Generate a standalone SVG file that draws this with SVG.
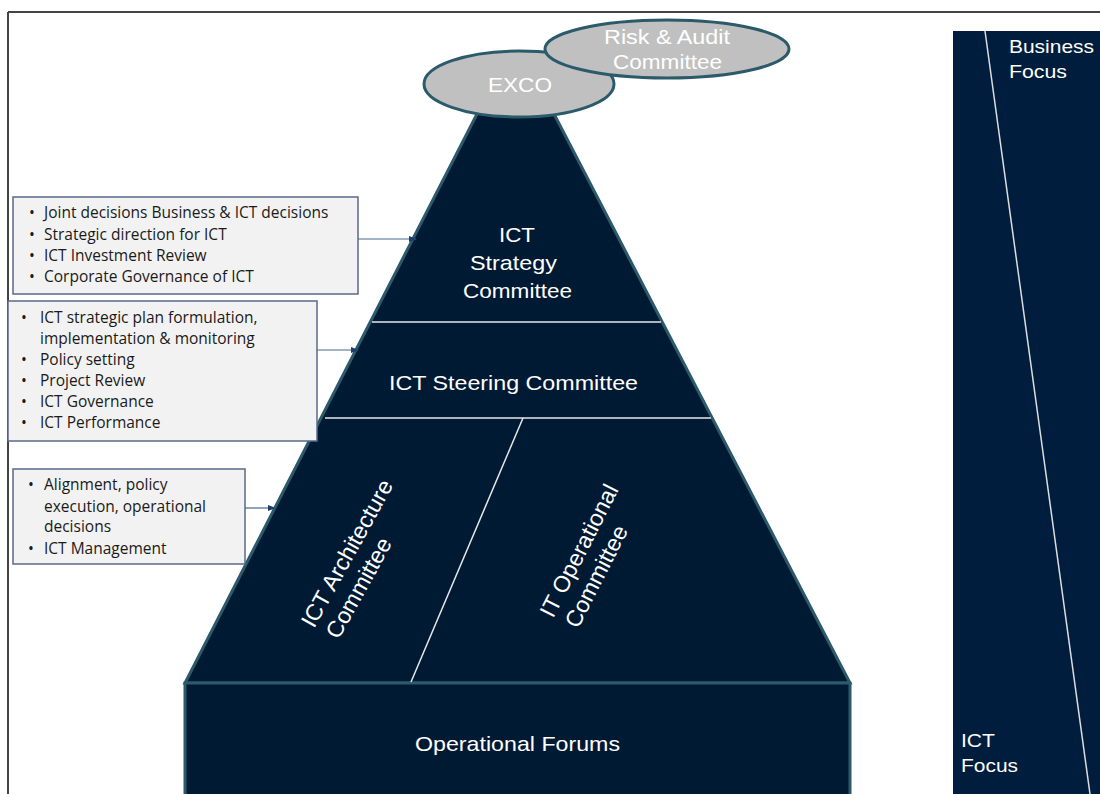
<svg xmlns="http://www.w3.org/2000/svg" width="1100" height="794" viewBox="0 0 1100 794">
  <defs>
    <marker id="arrow" viewBox="0 0 10 10" refX="9" refY="5" markerWidth="8" markerHeight="8" orient="auto" markerUnits="userSpaceOnUse">
      <path d="M0,1 L10,5 L0,9 z" fill="#1f3f6a"/>
    </marker>
    <style>
      .frame { stroke: #444; stroke-width: 2; fill: none; }
      .tier { fill: #011a34; stroke: #2d5a6b; stroke-width: 3; stroke-linejoin: miter; }
      .divider { stroke: #e8e8e8; stroke-width: 1.5; fill: none; }
      .oval { fill: #c0c0c0; stroke: #2b5a6a; stroke-width: 3; }
      .oval-text { font-family: "Liberation Sans", Arial, sans-serif; font-size: 21px; fill: #ffffff; text-anchor: middle; }
      .tier-text { font-family: "Liberation Sans", Arial, sans-serif; font-size: 21px; fill: #ffffff; text-anchor: middle; }
      .rot-text { font-family: "Liberation Sans", Arial, sans-serif; font-size: 23px; fill: #ffffff; }
      .focus-text { font-family: "Liberation Sans", Arial, sans-serif; font-size: 19px; fill: #ffffff; }
      .note { fill: #f2f2f2; stroke: #5a6a88; stroke-width: 1.5; }
      .note-text { font-family: "Open Sans", "Liberation Sans", sans-serif; font-size: 15.5px; fill: #1a1a1a; }
      .link { stroke: #4a6a90; stroke-width: 1.2; fill: none; marker-end: url(#arrow); }
    </style>
  </defs>

  <rect width="1100" height="794" fill="#ffffff"/>

  <!-- page frame -->
  <path class="frame" d="M8,12 H1100 M8,12 V794"/>

  <!-- governance pyramid -->
  <g id="pyramid">
    <path class="tier" d="M478,112 L553,112 L850,683 L185,683 Z"/>
  </g>

  <g id="operational-forums">
    <rect class="tier" x="185" y="683" width="665" height="120"/>
    <text class="tier-text" x="517.5" y="751" textLength="205" lengthAdjust="spacingAndGlyphs">Operational Forums</text>
  </g>

  <g id="tier-dividers">
    <line class="divider" x1="372" y1="322" x2="661" y2="322"/>
    <line class="divider" x1="325" y1="418" x2="711" y2="418"/>
    <line class="divider" x1="523" y1="418" x2="411" y2="682"/>
  </g>

  <g id="ict-strategy-committee">
    <text class="tier-text" x="517" y="242" textLength="36" lengthAdjust="spacingAndGlyphs">ICT</text>
    <text class="tier-text" x="513.5" y="270" textLength="87" lengthAdjust="spacingAndGlyphs">Strategy</text>
    <text class="tier-text" x="517.5" y="298" textLength="109" lengthAdjust="spacingAndGlyphs">Committee</text>
  </g>

  <g id="ict-steering-committee">
    <text class="tier-text" x="513.5" y="390" textLength="249" lengthAdjust="spacingAndGlyphs">ICT Steering Committee</text>
  </g>

  <g id="ict-architecture-committee">
    <g transform="translate(314,629) rotate(-61)">
      <text class="rot-text" x="0" y="0">ICT Architecture</text>
      <text class="rot-text" x="2" y="27">Committee</text>
    </g>
  </g>

  <g id="it-operational-committee">
    <g transform="translate(553,619) rotate(-63)">
      <text class="rot-text" x="0" y="0">IT Operational</text>
      <text class="rot-text" x="2" y="27">Committee</text>
    </g>
  </g>

  <!-- board-level bodies -->
  <g id="exco">
    <ellipse class="oval" cx="519" cy="84" rx="95" ry="33"/>
    <text class="oval-text" x="520" y="92" textLength="64" lengthAdjust="spacingAndGlyphs">EXCO</text>
  </g>

  <g id="risk-audit-committee">
    <ellipse class="oval" cx="667" cy="49" rx="122" ry="29"/>
    <text class="oval-text" x="667" y="44" textLength="126" lengthAdjust="spacingAndGlyphs">Risk &amp; Audit</text>
    <text class="oval-text" x="667.5" y="69" textLength="109" lengthAdjust="spacingAndGlyphs">Committee</text>
  </g>

  <!-- focus scale -->
  <g id="focus-scale">
    <rect x="953" y="31" width="150" height="770" fill="#011d3d"/>
    <line x1="985" y1="31" x2="1090" y2="794" stroke="#dddddd" stroke-width="1.5"/>
    <text class="focus-text" x="1009" y="53" textLength="85" lengthAdjust="spacingAndGlyphs">Business</text>
    <text class="focus-text" x="1009" y="78" textLength="58" lengthAdjust="spacingAndGlyphs">Focus</text>
    <text class="focus-text" x="961" y="747" textLength="34" lengthAdjust="spacingAndGlyphs">ICT</text>
    <text class="focus-text" x="961" y="772" textLength="57" lengthAdjust="spacingAndGlyphs">Focus</text>
  </g>

  <!-- responsibility notes -->
  <g id="note-strategy">
    <rect class="note" x="13" y="197" width="345" height="97"/>
    <g class="note-text">
      <text x="29" y="218">•</text><text x="44" y="218">Joint decisions Business &amp; ICT decisions</text>
      <text x="29" y="240">•</text><text x="44" y="240">Strategic direction for ICT</text>
      <text x="29" y="261">•</text><text x="44" y="261">ICT Investment Review</text>
      <text x="29" y="282">•</text><text x="44" y="282">Corporate Governance of ICT</text>
    </g>
  </g>

  <g id="note-steering">
    <rect class="note" x="8" y="301" width="309" height="140"/>
    <g class="note-text">
      <text x="21" y="323">•</text><text x="40" y="323">ICT strategic plan formulation,</text>
      <text x="40" y="344">implementation &amp; monitoring</text>
      <text x="21" y="365">•</text><text x="40" y="365">Policy setting</text>
      <text x="21" y="386">•</text><text x="40" y="386">Project Review</text>
      <text x="21" y="407">•</text><text x="40" y="407">ICT Governance</text>
      <text x="21" y="428">•</text><text x="40" y="428">ICT Performance</text>
    </g>
  </g>

  <g id="note-operations">
    <rect class="note" x="13" y="469" width="232" height="95"/>
    <g class="note-text">
      <text x="28" y="490">•</text><text x="44" y="490">Alignment, policy</text>
      <text x="44" y="512">execution, operational</text>
      <text x="44" y="532">decisions</text>
      <text x="28" y="554">•</text><text x="44" y="554">ICT Management</text>
    </g>
  </g>

  <!-- connectors -->
  <g id="connectors">
    <line class="link" x1="358" y1="239" x2="416" y2="239"/>
    <line class="link" x1="317" y1="350" x2="358" y2="350"/>
    <line class="link" x1="245" y1="508" x2="275" y2="508"/>
  </g>
</svg>
